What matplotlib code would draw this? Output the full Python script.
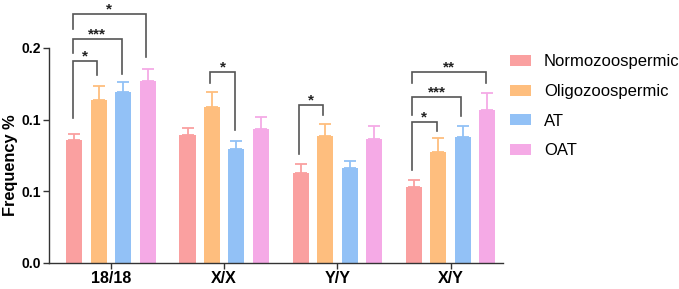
import matplotlib
matplotlib.use("Agg")
import matplotlib.pyplot as plt
import numpy as np
from matplotlib.patches import Patch

categories = ["18/18", "X/X", "Y/Y", "X/Y"]
groups = ["Normozoospermic", "Oligozoospermic", "AT", "OAT"]
colors = ["#FAA0A0", "#FEBE7E", "#92C1F6", "#F5AAE6"]

normo = [0.0860, 0.0893, 0.0628, 0.0532]
oligo = [0.1139, 0.1086, 0.0886, 0.0776]
at = [0.1192, 0.0797, 0.0660, 0.0879]
oat = [0.1267, 0.0932, 0.0865, 0.1065]

normo_err = [0.0042, 0.0046, 0.0062, 0.0045]
oligo_err = [0.0097, 0.0106, 0.0081, 0.0094]
at_err = [0.0068, 0.0054, 0.0049, 0.0079]
oat_err = [0.0088, 0.0088, 0.0090, 0.0121]

ytick_values = [0.0, 0.05, 0.10, 0.15]
ytick_labels = ["0.0", "0.1", "0.1", "0.2"]

# significance brackets: (category index, bar i, bar j, label, line y, left leg end, right leg end)
brackets = [
    (0, 0, 1, "*", 0.1411, 0.1009, 0.1311),
    (0, 0, 2, "***", 0.1562, 0.1464, 0.1318),
    (0, 0, 3, "*", 0.1736, 0.1632, 0.1439),
    (1, 1, 2, "*", 0.1330, 0.1253, 0.0927),
    (2, 0, 1, "*", 0.1102, 0.0760, 0.1032),
    (3, 0, 1, "*", 0.0981, 0.0649, 0.0923),
    (3, 0, 2, "***", 0.1155, 0.1032, 0.1027),
    (3, 0, 3, "**", 0.1330, 0.1253, 0.1253),
]

means = [normo, oligo, at, oat]
errs = [normo_err, oligo_err, at_err, oat_err]

plt.rcParams["font.family"] = ["Liberation Sans", "DejaVu Sans"]

fig = plt.figure(figsize=(6.79, 2.89), dpi=100)
ax = fig.add_axes([0.0726, 0.09, 0.668, 0.744])

x = np.arange(len(categories))
pitch = 0.216
width = 0.142

def bar_x(k):
    return x + (k - 1.5) * pitch

for k, (m, e, c, g) in enumerate(zip(means, errs, colors, groups)):
    ax.bar(bar_x(k), m, width=width, color=c, label=g, zorder=2)
    ax.errorbar(bar_x(k), m, yerr=[np.zeros(len(m)), e], fmt="none",
                ecolor=c, elinewidth=1.3, capsize=4.5, capthick=1.3, zorder=3)

line_color = "#555555"
for ci, i, j, lab, yl, yli, ylj in brackets:
    xi = bar_x(i)[ci] - 0.015
    xj = bar_x(j)[ci] - 0.015
    ax.plot([xi, xi, xj, xj], [yli, yl, yl, ylj], color=line_color,
            lw=1.2, clip_on=False, zorder=4, solid_joinstyle="miter")
    ax.annotate(lab, xy=((xi + xj) / 2, yl), xytext=(0, 0.5),
                textcoords="offset points", ha="center", va="baseline",
                fontsize=11, fontweight="bold", color="#222222",
                annotation_clip=False)

ax.set_xlim(-0.545, 3.462)
ax.set_ylim(0, 0.15)
ax.set_yticks(ytick_values)
ax.set_yticklabels(ytick_labels, fontsize=10, fontweight="bold")
ax.set_xticks(x)
ax.set_xticklabels(categories, fontsize=11.5, fontweight="bold")
ax.set_ylabel("Frequency %", fontsize=11.8, fontweight="bold")
ax.yaxis.set_label_coords(-0.07, 0.455)

for s in ["top", "right"]:
    ax.spines[s].set_visible(False)
for s in ["left", "bottom"]:
    ax.spines[s].set_color("#333333")
    ax.spines[s].set_linewidth(1.0)
ax.tick_params(axis="both", length=4, width=1.0, color="#333333", pad=2)

handles = [Patch(facecolor=c, edgecolor="none") for c in colors]
fig.legend(handles, groups, loc="upper left", bbox_to_anchor=(0.742, 0.835),
           frameon=False, fontsize=12, handlelength=1.25, handleheight=0.65,
           handletextpad=0.75, labelspacing=0.88, borderaxespad=0)

fig.savefig("out.png", dpi=100)
